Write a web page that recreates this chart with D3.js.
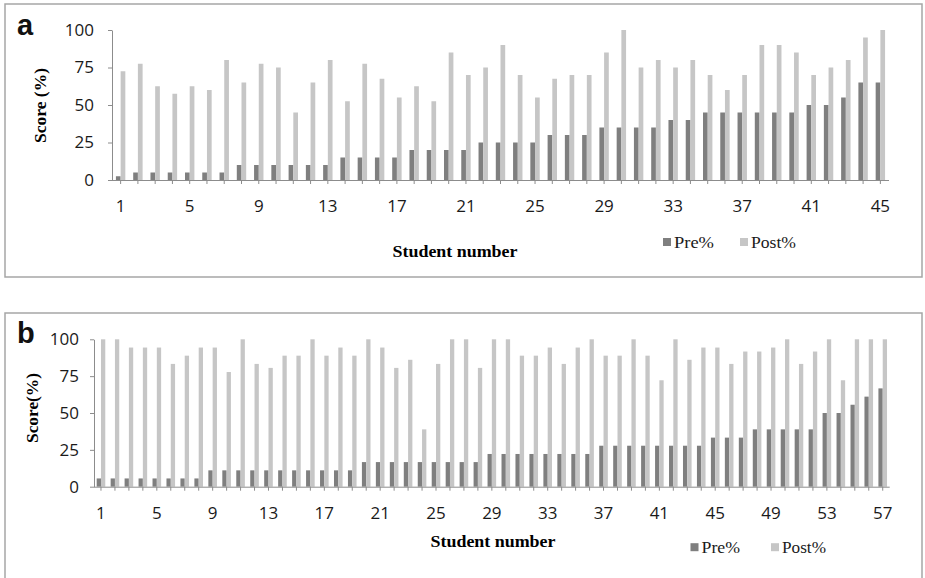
<!DOCTYPE html>
<html><head><meta charset="utf-8">
<script src="https://cdn.jsdelivr.net/npm/d3@7"></script>
<style>
html,body{margin:0;padding:0;background:#fff;}
svg{display:block;}
</style></head>
<body>
<svg id="chart" width="925" height="578"></svg>
<script>
// ---------- DATA ----------
const studentsA = [1,2,3,4,5,6,7,8,9,10,11,12,13,14,15,16,17,18,19,20,21,22,23,24,25,26,27,28,29,30,31,32,33,34,35,36,37,38,39,40,41,42,43,44,45];
const preA  = [2.5,5,5,5,5,5,5,10,10,10,10,10,10,15,15,15,15,20,20,20,20,25,25,25,25,30,30,30,35,35,35,35,40,40,45,45,45,45,45,45,50,50,55,65,65];
const postA = [72.5,77.5,62.5,57.5,62.5,60,80,65,77.5,75,45,65,80,52.5,77.5,67.5,55,62.5,52.5,85,70,75,90,70,55,67.5,70,70,85,100,75,80,75,80,70,60,70,90,90,85,70,75,80,95,100];

const studentsB = [1,2,3,4,5,6,7,8,9,10,11,12,13,14,15,16,17,18,19,20,21,22,23,24,25,26,27,28,29,30,31,32,33,34,35,36,37,38,39,40,41,42,43,44,45,46,47,48,49,50,51,52,53,54,55,56,57];
const preB  = [5.6,5.6,5.6,5.6,5.6,5.6,5.6,5.6,11.1,11.1,11.1,11.1,11.1,11.1,11.1,11.1,11.1,11.1,11.1,16.7,16.7,16.7,16.7,16.7,16.7,16.7,16.7,16.7,22.2,22.2,22.2,22.2,22.2,22.2,22.2,22.2,27.8,27.8,27.8,27.8,27.8,27.8,27.8,27.8,33.3,33.3,33.3,38.9,38.9,38.9,38.9,38.9,50,50,55.6,61.1,66.7];
const postB = [100,100,94.4,94.4,94.4,83.3,88.9,94.4,94.4,77.8,100,83.3,80.6,88.9,88.9,100,88.9,94.4,88.9,100,94.4,80.6,86.1,38.9,83.3,100,100,80.6,100,100,88.9,88.9,94.4,83.3,94.4,100,88.9,88.9,100,88.9,72.2,100,86.1,94.4,94.4,83.3,91.7,91.7,94.4,100,83.3,91.7,100,72.2,100,100,100];

const yTicks = [0,25,50,75,100];
const seriesNames = ["Pre%","Post%"];

// ---------- STYLE ----------
const PRE_COLOR = "#7f7f7f", POST_COLOR = "#c6c6c6";
const AXIS_COLOR = "#8c8c8c", BORDER_COLOR = "#a6a6a6";
const TEXT_COLOR = "#1a1a1a";
const svg = d3.select("#chart");

function panel(cfg){
  const g = svg.append("g");
  g.append("rect").attr("x",cfg.box[0]).attr("y",cfg.box[1])
    .attr("width",cfg.box[2]).attr("height",cfg.box[3])
    .attr("fill","none").attr("stroke",BORDER_COLOR).attr("stroke-width",1.5);

  const x = d3.scaleBand().domain(cfg.cats).range([cfg.x0,cfg.x1]).padding(0);
  const y = d3.scaleLinear().domain([0,100]).range([cfg.yZero,cfg.yTop]);
  const bw = cfg.barW;

  g.append("g").selectAll("rect").data(cfg.cats).join("rect")
    .attr("x",d=>x(d)+x.bandwidth()/2-bw).attr("width",bw)
    .attr("y",(d,i)=>y(cfg.pre[i])).attr("height",(d,i)=>y(0)-y(cfg.pre[i]))
    .attr("fill",PRE_COLOR);
  g.append("g").selectAll("rect").data(cfg.cats).join("rect")
    .attr("x",d=>x(d)+x.bandwidth()/2).attr("width",bw)
    .attr("y",(d,i)=>y(cfg.post[i])).attr("height",(d,i)=>y(0)-y(cfg.post[i]))
    .attr("fill",POST_COLOR);

  const ya = g.append("g").attr("transform",`translate(${cfg.x0},0)`)
    .call(d3.axisLeft(y).tickValues(yTicks).tickSize(4).tickSizeOuter(0).tickPadding(cfg.yPad));
  ya.selectAll("path,line").attr("stroke",AXIS_COLOR);
  ya.selectAll("text").attr("font-family","'Open Sans',sans-serif").attr("font-size",17).attr("fill",TEXT_COLOR);

  const xa = g.append("g").attr("transform",`translate(0,${cfg.yZero})`)
    .call(d3.axisBottom(x).tickSize(4).tickSizeOuter(0).tickPadding(16)
      .tickFormat(d=> (d-1)%4===0 ? d : ""));
  xa.select("path").attr("d",`M${cfg.x0},0.5H${cfg.x1}`);
  xa.selectAll("path,line").attr("stroke",AXIS_COLOR);
  xa.selectAll("text").attr("font-family","'Open Sans',sans-serif").attr("font-size",17).attr("fill",TEXT_COLOR);

  g.append("text").attr("transform",`translate(${cfg.yTitle[0]},${cfg.yTitle[1]}) rotate(-90)`)
    .attr("text-anchor","middle").attr("font-family","'Liberation Serif',serif")
    .attr("font-weight","bold").attr("font-size",16).attr("fill","#000")
    .attr("textLength",cfg.yTitle[2]).attr("lengthAdjust","spacingAndGlyphs")
    .text(cfg.yTitleText);
  g.append("text").attr("x",cfg.xTitle[0]).attr("y",cfg.xTitle[1])
    .attr("text-anchor","middle").attr("font-family","'Liberation Serif',serif")
    .attr("font-weight","bold").attr("font-size",16).attr("fill","#000")
    .attr("textLength",125).attr("lengthAdjust","spacingAndGlyphs")
    .text("Student number");
  g.append("text").attr("x",cfg.letter[0]).attr("y",cfg.letter[1])
    .attr("font-family","'Liberation Sans',Arial,sans-serif").attr("font-weight","bold")
    .attr("font-size",29).attr("fill","#111").text(cfg.letterText);

  const colors = [PRE_COLOR, POST_COLOR];
  cfg.legend.forEach((lx,i)=>{
    g.append("rect").attr("x",lx).attr("y",cfg.legendY-9.5).attr("width",8).attr("height",8).attr("fill",colors[i]);
    g.append("text").attr("x",lx+11).attr("y",cfg.legendY)
      .attr("font-family","'Liberation Serif',serif").attr("font-size",16).attr("fill",TEXT_COLOR)
      .attr("textLength",cfg.legendLen[i]).attr("lengthAdjust","spacingAndGlyphs")
      .text(seriesNames[i]);
  });
}

panel({
  cats: studentsA, pre: preA, post: postA,
  box:[5,4,917,273],
  x0:112, x1:889, yZero:180, yTop:30, barW:4.7, yPad:14,
  yTitle:[46,105.5,75], yTitleText:"Score (%)",
  xTitle:[455,257],
  letter:[17,35], letterText:"a",
  legend:[663,740], legendY:247.5, legendLen:[40,45]
});

panel({
  cats: studentsB, pre: preB, post: postB,
  box:[5,313,917,280],
  x0:94, x1:889.7, yZero:486.7, yTop:339.3, barW:4.3, yPad:11,
  yTitle:[38,408,70], yTitleText:"Score(%)",
  xTitle:[493,547],
  letter:[17,343], letterText:"b",
  legend:[690.5,771], legendY:552.7, legendLen:[38.5,44]
});
</script>
</body></html>
